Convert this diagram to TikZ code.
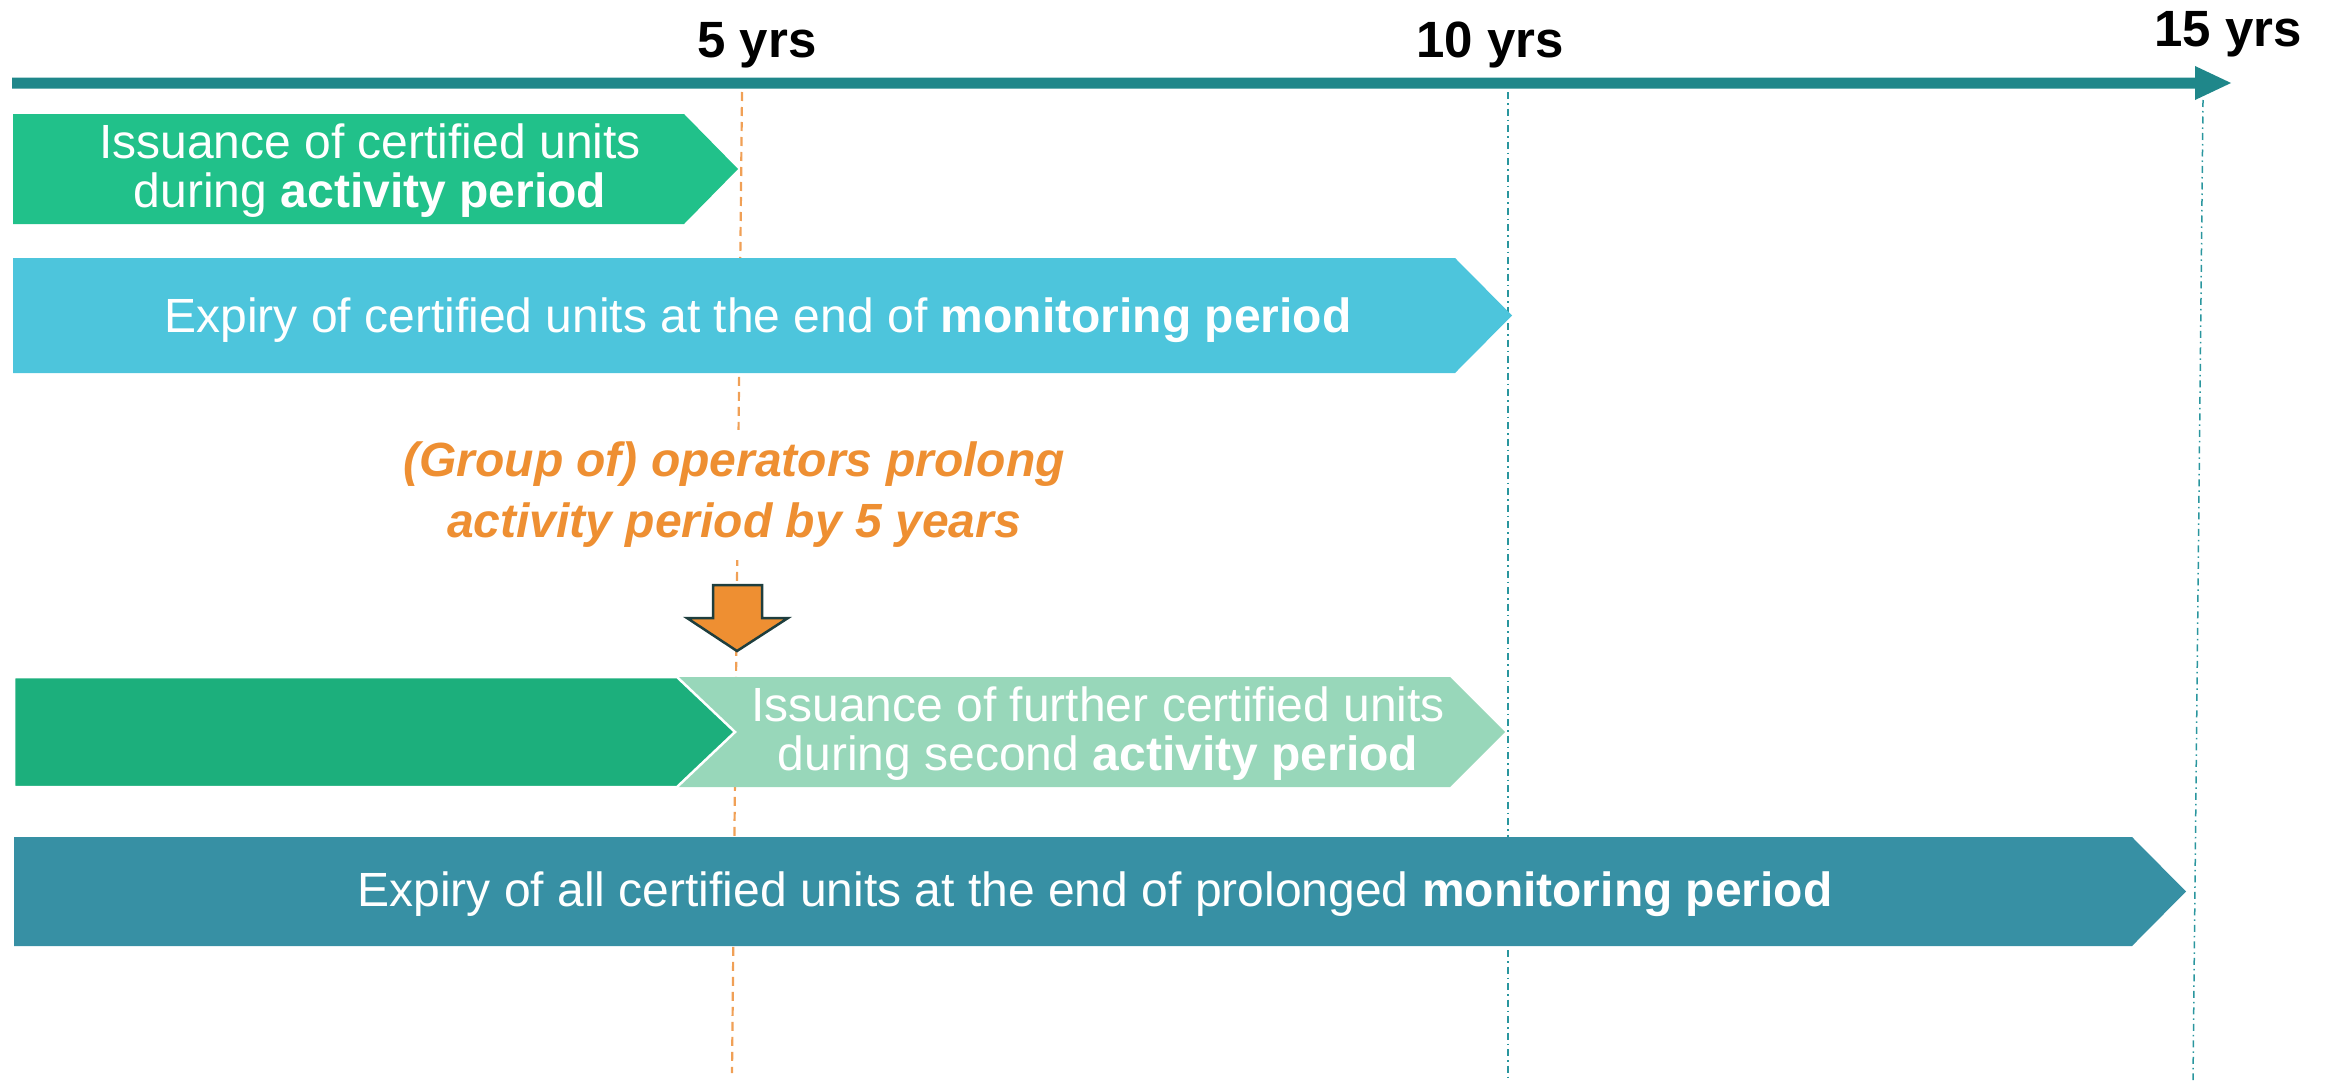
\documentclass[tikz,border=0pt]{standalone}
\usepackage{fontspec}
\setmainfont{Liberation Sans}
\definecolor{tl}{HTML}{1F878A}
\definecolor{gA}{HTML}{21C18A}
\definecolor{lb}{HTML}{4DC5DC}
\definecolor{dg}{HTML}{1CAF7C}
\definecolor{lg}{HTML}{98D7BA}
\definecolor{tb}{HTML}{3790A4}
\definecolor{orc}{HTML}{EE8F32}
\definecolor{ordash}{HTML}{F0A056}
\definecolor{tdash}{HTML}{2A969E}
\definecolor{arline}{HTML}{1E3E3E}
\begin{document}
\begin{tikzpicture}[x=1pt,y=-1pt,
  boxtext/.style={text=white, font=\fontsize{48}{49}\selectfont, align=center, inner sep=0pt},
  yrs/.style={font=\fontsize{51}{51}\selectfont\bfseries, anchor=base, inner sep=0pt},
  ortext/.style={text=orc, font=\fontsize{48}{61}\selectfont\bfseries\itshape, align=center, fill=white, inner xsep=4pt, inner ysep=12pt},
  odash/.style={draw=ordash, line width=2.2pt, dash pattern=on 9pt off 6pt},
  tdashdot/.style={draw=tdash, line width=1.5pt, dash pattern=on 7pt off 4pt on 1.5pt off 4pt}
]
\useasboundingbox (0,0) rectangle (2325,1081);
% guide lines
\coordinate (o1) at (742,92);  \coordinate (o2) at (732,1073);
\coordinate (a1) at (1508,92); \coordinate (a2) at (1508,1080);
\coordinate (b1) at (2203,100); \coordinate (b2) at (2193,1080);
\draw[odash] (o1) -- (o2);
\draw[tdashdot] (a1) -- (a2);
\draw[tdashdot] (b1) -- (b2);
% timeline
\fill[tl] (12,77.5) -- (2195,77.5) -- (2195,66) -- (2231,83) -- (2195,100) -- (2195,88.5) -- (12,88.5) -- cycle;
\node[yrs] (y5) at (757,57) {5 yrs};
\node[yrs] (y10) at (1490,57) {10 yrs};
\node[yrs] (y15) at (2228,47) {15 yrs};
% row 1
\fill[gA] (13,114) -- (684,114) -- (738,169) -- (684,224) -- (13,224) -- cycle;
\node[boxtext] (t1) at (370,171) {Issuance of certified units\\during \textbf{activity period}};
% row 2
\fill[lb] (13,258) -- (1455,258) -- (1512,315.5) -- (1455,373) -- (13,373) -- cycle;
\node[boxtext, anchor=base] (t2) at (758,332) {Expiry of certified units at the end of \textbf{monitoring period}};
% orange note
\node[ortext] (op) at (734,495) {(Group of) operators prolong\\activity period by 5 years};
\draw[draw=arline, fill=orc, line width=2.5pt, line join=miter] (713,585) -- (762,585) -- (762,618) -- (788,618) -- (737,651) -- (687,618) -- (713,618) -- cycle;
% row 3
\fill[lg] (677,677) -- (1450,677) -- (1505,732) -- (1450,787) -- (677,787) -- (735,732) -- cycle;
\filldraw[fill=dg, draw=white, line width=2.5pt] (14,677) -- (677,677) -- (735,732) -- (677,787) -- (14,787) -- cycle;
\node[boxtext] (t3) at (1098,734) {Issuance of further certified units\\during second \textbf{activity period}};
% row 4
\fill[tb] (14,837) -- (2132,837) -- (2186,891.5) -- (2132,946) -- (14,946) -- cycle;
\node[boxtext, anchor=base] (t4) at (1095,906) {Expiry of all certified units at the end of prolonged \textbf{monitoring period}};
\end{tikzpicture}
\end{document}
